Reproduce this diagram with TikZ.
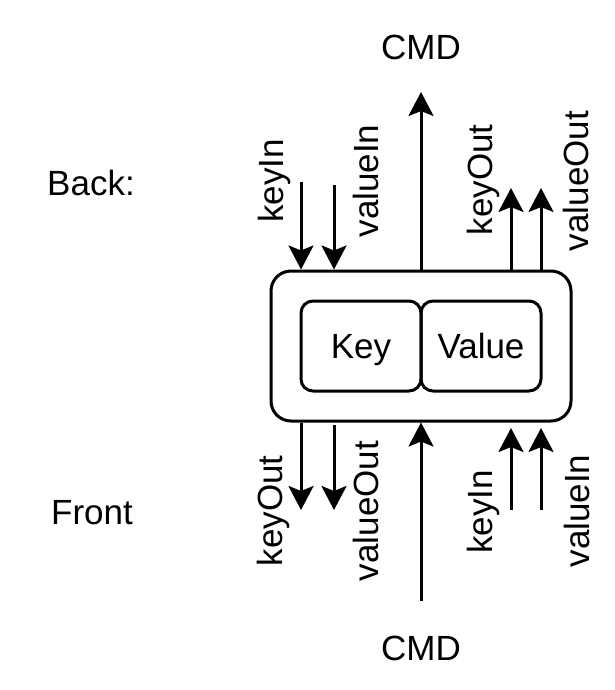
\documentclass[tikz,border=0pt]{standalone}
\usepackage{fontspec}
\setmainfont{Liberation Sans}
\usetikzlibrary{arrows.meta}
\begin{document}
\begin{tikzpicture}[x=1pt,y=-1pt,line width=3pt,
  lbl/.style={font=\fontsize{35}{42}\selectfont, inner sep=0pt},
  vlbl/.style={lbl, rotate=90},
  arr/.style={-{Stealth[length=24pt,width=25pt,inset=5pt]}},
  outerbox/.style={draw, rounded corners=20pt, minimum width=300pt, minimum height=150pt, inner sep=0pt},
  innerbox/.style={draw, rounded corners=12pt, minimum width=120pt, minimum height=90pt, inner sep=0pt, text height=25pt, text depth=0pt, font=\fontsize{35}{42}\selectfont}]
\useasboundingbox (0,0) rectangle (615,690);
% boxes
\node[outerbox] (outer) at (421,346) {};
\node[innerbox] (key) at (361,346) {Key};
\node[innerbox] (value) at (481,346) {Value};
% side labels
\node[lbl] (back) at (91,183) {Back:};
\node[lbl] (front) at (92,513) {Front};
% CMD labels
\node[lbl] (cmdtop) at (421,47) {CMD};
\node[lbl] (cmdbot) at (421,648) {CMD};
% top coordinates
\coordinate (tkin) at (301,182);
\coordinate (tvin) at (334,185);
\coordinate (tcmd) at (421,92);
\coordinate (tkout) at (511,188);
\coordinate (tvout) at (541,188);
% bottom coordinates
\coordinate (bkout) at (301,510);
\coordinate (bvouts) at (334,425);
\coordinate (bvout) at (334,510);
\coordinate (bcmd) at (421,601);
\coordinate (bkin) at (511,510);
\coordinate (bkine) at (511,428);
\coordinate (bvin) at (541,510);
\coordinate (bvine) at (541,428);
% top arrows
\draw[arr] (tkin) -- (tkin |- outer.north);
\draw[arr] (tvin) -- (tvin |- outer.north);
\draw[arr] (outer.north) -- (tcmd);
\draw[arr] (tkout |- outer.north) -- (tkout);
\draw[arr] (tvout |- outer.north) -- (tvout);
% bottom arrows
\draw[arr] (bkout |- outer.south) -- (bkout);
\draw[arr] (bvouts) -- (bvout);
\draw[arr] (bcmd) -- (outer.south);
\draw[arr] (bkin) -- (bkine);
\draw[arr] (bvin) -- (bvine);
% arrow labels
\node[vlbl] (lkin) at (274,181) {keyIn};
\node[vlbl] (lvin) at (366,181) {valueIn};
\node[vlbl] (lkout) at (483,180) {keyOut};
\node[vlbl] (lvout) at (576,181) {valueOut};
\node[vlbl] (lbkout) at (273,511) {keyOut};
\node[vlbl] (lbvout) at (366,511) {valueOut};
\node[vlbl] (lbkin) at (483,512) {keyIn};
\node[vlbl] (lbvin) at (577,511) {valueIn};
\end{tikzpicture}
\end{document}
